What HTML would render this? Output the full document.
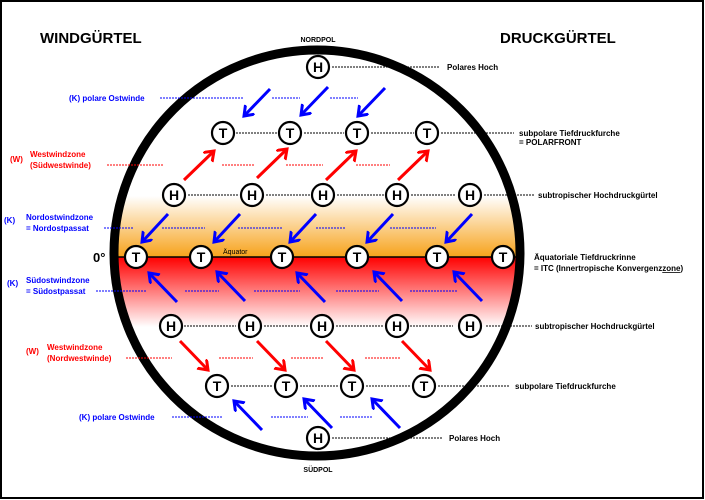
<!DOCTYPE html>
<html><head><meta charset="utf-8"><style>
html,body{margin:0;padding:0;background:#fff}
svg{display:block}
text{font-family:"Liberation Sans",sans-serif;font-weight:bold}
</style></head><body>
<svg width="705" height="500" viewBox="0 0 705 500" xmlns="http://www.w3.org/2000/svg">
<defs>
<linearGradient id="og" x1="0" y1="0" x2="0" y2="1"><stop offset="0" stop-color="#fff"/><stop offset="1" stop-color="#f7a21a"/></linearGradient>
<linearGradient id="rg" x1="0" y1="0" x2="0" y2="1"><stop offset="0" stop-color="#ff0000"/><stop offset="1" stop-color="#fff"/></linearGradient>
<clipPath id="cc"><circle cx="317" cy="253" r="203"/></clipPath>
<marker id="ab" markerWidth="5" markerHeight="5" refX="3" refY="2.2" orient="auto" markerUnits="strokeWidth"><path d="M0,0 L3,2.2 L0,4.4" fill="none" stroke="#0000ff" stroke-width="1"/></marker>
<marker id="ar" markerWidth="5" markerHeight="5" refX="3" refY="2.2" orient="auto" markerUnits="strokeWidth"><path d="M0,0 L3,2.2 L0,4.4" fill="none" stroke="#ff0000" stroke-width="1"/></marker>
</defs>
<rect x="1" y="1" width="702" height="497" fill="#fff" stroke="#000" stroke-width="2"/>
<g clip-path="url(#cc)">
<rect x="100" y="196" width="440" height="61" fill="url(#og)"/>
<rect x="100" y="257" width="440" height="70" fill="url(#rg)"/>
</g>
<line x1="115" y1="257" x2="520" y2="257" stroke="#000" stroke-width="1.5"/>
<circle cx="317" cy="253" r="203" fill="none" stroke="#000" stroke-width="9"/>
<g stroke="#000" stroke-width="1" stroke-dasharray="2,1">
<line x1="332" y1="67" x2="440" y2="67"/>
<line x1="236" y1="133" x2="278" y2="133"/><line x1="304" y1="133" x2="344" y2="133"/><line x1="371" y1="133" x2="414" y2="133"/><line x1="441" y1="133" x2="514" y2="133"/>
<line x1="188" y1="195" x2="239" y2="195"/><line x1="266" y1="195" x2="310" y2="195"/><line x1="337" y1="195" x2="384" y2="195"/><line x1="411" y1="195" x2="456" y2="195"/><line x1="484" y1="195" x2="535" y2="195"/>
<line x1="184" y1="326" x2="236" y2="326"/><line x1="264" y1="326" x2="308" y2="326"/><line x1="336" y1="326" x2="384" y2="326"/><line x1="410" y1="326" x2="453" y2="326"/><line x1="486" y1="326" x2="532" y2="326"/>
<line x1="231" y1="386" x2="273" y2="386"/><line x1="300" y1="386" x2="339" y2="386"/><line x1="366" y1="386" x2="410" y2="386"/><line x1="438" y1="386" x2="510" y2="386"/>
<line x1="332" y1="438" x2="442" y2="438"/>
</g>
<g stroke="#0000ff" stroke-width="1" stroke-dasharray="2,1">
<line x1="160" y1="98" x2="243" y2="98"/><line x1="272" y1="98" x2="300" y2="98"/><line x1="330" y1="98" x2="358" y2="98"/>
<line x1="104" y1="228" x2="134" y2="228"/><line x1="162" y1="228" x2="205" y2="228"/><line x1="238" y1="228" x2="282" y2="228"/><line x1="316" y1="228" x2="345" y2="228"/><line x1="390" y1="228" x2="436" y2="228"/>
<line x1="96" y1="291" x2="146" y2="291"/><line x1="185" y1="291" x2="219" y2="291"/><line x1="254" y1="291" x2="300" y2="291"/><line x1="336" y1="291" x2="379" y2="291"/><line x1="410" y1="291" x2="458" y2="291"/>
<line x1="172" y1="417" x2="223" y2="417"/><line x1="271" y1="417" x2="308" y2="417"/><line x1="340" y1="417" x2="372" y2="417"/>
</g>
<g stroke="#ff0000" stroke-width="1" stroke-dasharray="2,1">
<line x1="107" y1="165" x2="164" y2="165"/><line x1="222" y1="165" x2="254" y2="165"/><line x1="286" y1="165" x2="323" y2="165"/><line x1="356" y1="165" x2="390" y2="165"/>
<line x1="126" y1="358" x2="172" y2="358"/><line x1="219" y1="358" x2="253" y2="358"/><line x1="291" y1="358" x2="323" y2="358"/><line x1="365" y1="358" x2="400" y2="358"/>
</g>
<g stroke="#0000ff" stroke-width="3" marker-end="url(#ab)">
<line x1="270" y1="89" x2="244" y2="116"/><line x1="328" y1="87" x2="301" y2="115"/><line x1="385" y1="88" x2="358" y2="116"/>
<line x1="168" y1="214" x2="142" y2="242"/><line x1="240" y1="214" x2="214" y2="242"/><line x1="316" y1="214" x2="290" y2="242"/><line x1="393" y1="214" x2="367" y2="242"/><line x1="472" y1="214" x2="446" y2="242"/>
<line x1="177" y1="302" x2="149" y2="273"/><line x1="245" y1="301" x2="217" y2="272"/><line x1="325" y1="302" x2="297" y2="273"/><line x1="402" y1="301" x2="374" y2="272"/><line x1="482" y1="301" x2="454" y2="272"/>
<line x1="262" y1="430" x2="234" y2="401"/><line x1="332" y1="428" x2="304" y2="399"/><line x1="400" y1="428" x2="372" y2="399"/>
</g>
<g stroke="#ff0000" stroke-width="3" marker-end="url(#ar)">
<line x1="184" y1="180" x2="214" y2="151"/><line x1="257" y1="178" x2="287" y2="149"/><line x1="326" y1="180" x2="356" y2="151"/><line x1="398" y1="180" x2="428" y2="151"/>
<line x1="180" y1="341" x2="208" y2="370"/><line x1="257" y1="341" x2="285" y2="370"/><line x1="326" y1="341" x2="354" y2="370"/><line x1="402" y1="341" x2="430" y2="370"/>
</g>
<g fill="#fff" stroke="#000" stroke-width="2.2">
<circle cx="318" cy="67" r="11"/>
<circle cx="223" cy="133" r="11"/><circle cx="290" cy="133" r="11"/><circle cx="357" cy="133" r="11"/><circle cx="427" cy="133" r="11"/>
<circle cx="174" cy="195" r="11"/><circle cx="252" cy="195" r="11"/><circle cx="323" cy="195" r="11"/><circle cx="397" cy="195" r="11"/><circle cx="470" cy="195" r="11"/>
<circle cx="136" cy="257" r="11"/><circle cx="201" cy="257" r="11"/><circle cx="282" cy="257" r="11"/><circle cx="357" cy="257" r="11"/><circle cx="437" cy="257" r="11"/><circle cx="503" cy="257" r="11"/>
<circle cx="171" cy="326" r="11"/><circle cx="250" cy="326" r="11"/><circle cx="322" cy="326" r="11"/><circle cx="397" cy="326" r="11"/><circle cx="470" cy="326" r="11"/>
<circle cx="217" cy="386" r="11"/><circle cx="286" cy="386" r="11"/><circle cx="352" cy="386" r="11"/><circle cx="424" cy="386" r="11"/>
<circle cx="318" cy="438" r="11"/>
</g>
<g font-size="14" text-anchor="middle" style="font-weight:normal">
<text x="318" y="72">H</text>
<text x="223" y="138">T</text><text x="290" y="138">T</text><text x="357" y="138">T</text><text x="427" y="138">T</text>
<text x="174" y="200">H</text><text x="252" y="200">H</text><text x="323" y="200">H</text><text x="397" y="200">H</text><text x="470" y="200">H</text>
<text x="136" y="262">T</text><text x="201" y="262">T</text><text x="282" y="262">T</text><text x="357" y="262">T</text><text x="437" y="262">T</text><text x="503" y="262">T</text>
<text x="171" y="331">H</text><text x="250" y="331">H</text><text x="322" y="331">H</text><text x="397" y="331">H</text><text x="470" y="331">H</text>
<text x="217" y="391">T</text><text x="286" y="391">T</text><text x="352" y="391">T</text><text x="424" y="391">T</text>
<text x="318" y="443">H</text>
</g>
<text x="40" y="43" font-size="15">WINDGÜRTEL</text>
<text x="500" y="43" font-size="15">DRUCKGÜRTEL</text>
<text x="318" y="42" font-size="7" text-anchor="middle">NORDPOL</text>
<text x="318" y="472" font-size="7" text-anchor="middle">SÜDPOL</text>
<text x="93" y="262" font-size="13">0°</text>
<text x="223" y="254" font-size="7" style="font-weight:normal">Äquator</text>
<g font-size="8" fill="#000">
<text x="447" y="70">Polares Hoch</text>
<text x="519" y="136">subpolare Tiefdruckfurche</text>
<text x="519" y="145">= POLARFRONT</text>
<text x="538" y="198">subtropischer Hochdruckgürtel</text>
<text x="534" y="260">Äquatoriale Tiefdruckrinne</text>
<text x="534" y="271">= ITC (Innertropische Konvergenz<tspan text-decoration="underline">zone</tspan>)</text>
<text x="535" y="329">subtropischer Hochdruckgürtel</text>
<text x="515" y="389">subpolare Tiefdruckfurche</text>
<text x="449" y="441">Polares Hoch</text>
</g>
<g font-size="8" fill="#0000ff">
<text x="69" y="101">(K)  polare Ostwinde</text>
<text x="4" y="223">(K)</text>
<text x="26" y="220">Nordostwindzone</text>
<text x="26" y="231">=  Nordostpassat</text>
<text x="7" y="286">(K)</text>
<text x="26" y="283">Südostwindzone</text>
<text x="26" y="294">= Südostpassat</text>
<text x="79" y="420">(K)  polare Ostwinde</text>
</g>
<g font-size="8" fill="#ff0000">
<text x="10" y="162">(W)</text>
<text x="30" y="157">Westwindzone</text>
<text x="30" y="168">(Südwestwinde)</text>
<text x="26" y="354">(W)</text>
<text x="47" y="350">Westwindzone</text>
<text x="47" y="361">(Nordwestwinde)</text>
</g>
</svg>
</body></html>
